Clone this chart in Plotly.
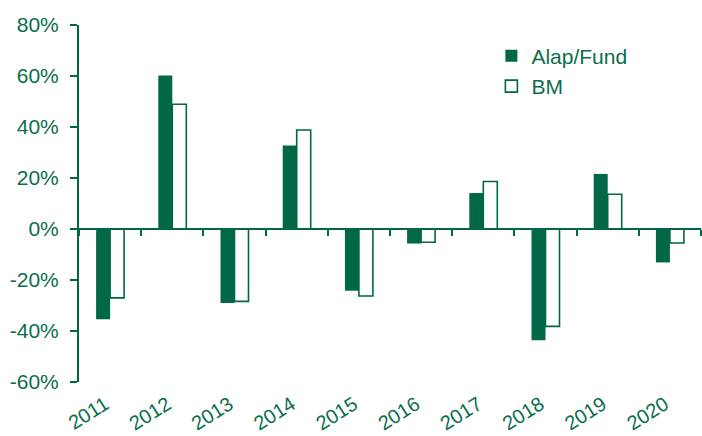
import plotly.graph_objects as go

years = ["2011", "2012", "2013", "2014", "2015", "2016", "2017", "2018", "2019", "2020"]
fund = [-35.4, 60.2, -29.0, 32.7, -24.2, -5.7, 14.1, -43.6, 21.6, -13.1]
bm = [-27.0, 48.9, -28.4, 38.8, -26.3, -5.2, 18.6, -38.2, 13.6, -5.5]
ytick_vals = [-60, -40, -20, 0, 20, 40, 60, 80]
ytick_text = ["-60%", "-40%", "-20%", "0%", "20%", "40%", "60%", "80%"]

GREEN = "#006747"
TEXT = "#0A6E4A"
FONT = "Liberation Sans, Arial, sans-serif"

fig = go.Figure()
fig.add_trace(go.Bar(x=years, y=fund, name="Alap/Fund",
                     marker=dict(color=GREEN, line=dict(color=GREEN, width=0))))
fig.add_trace(go.Bar(x=years, y=bm, name="BM",
                     marker=dict(color="white", line=dict(color=GREEN, width=1.6))))
# invisible trace to hold the zero-line category axis
fig.add_trace(go.Scatter(x=years, y=[0]*len(years), xaxis="x2", mode="none",
                         showlegend=False, hoverinfo="skip"))

fig.update_layout(
    width=702, height=436,
    margin=dict(l=79, r=1, t=25, b=54, autoexpand=False),
    paper_bgcolor="white", plot_bgcolor="white",
    barmode="group", bargap=0.55, bargroupgap=0,
    font=dict(family=FONT, size=21, color=TEXT),
    showlegend=True,
    legend=dict(x=0.663, y=0.97, xanchor="left", yanchor="top",
                font=dict(size=21, color=TEXT), bgcolor="rgba(0,0,0,0)",
                itemwidth=30, tracegroupgap=0),
    xaxis=dict(type="category", categoryorder="array", categoryarray=years,
               range=[-0.5, 9.5], showline=False, showgrid=False, ticks="",
               automargin=False, tickangle=-32, ticklabelstandoff=6,
               ticklabelshift=-5,
               tickfont=dict(size=20, color=TEXT), zeroline=False),
    xaxis2=dict(type="category", categoryorder="array", categoryarray=years,
                range=[-0.5, 9.5], overlaying="x", anchor="free",
                position=60/140, showline=True, linecolor=GREEN, linewidth=2,
                ticks="outside", tickson="boundaries", ticklen=6, tickwidth=2,
                tickcolor=GREEN, showticklabels=False, showgrid=False,
                automargin=False),
    yaxis=dict(range=[-60, 80], tickvals=ytick_vals, ticktext=ytick_text,
               showline=True, linecolor=GREEN, linewidth=2, ticks="outside",
               ticklen=7, tickwidth=2, tickcolor=GREEN, showgrid=False,
               automargin=False, ticklabelstandoff=7,
               zeroline=False, tickfont=dict(size=21, color=TEXT)),
)

fig.write_html("out.html", config={"displayModeBar": False},
               post_script="document.body.style.margin='0';")
